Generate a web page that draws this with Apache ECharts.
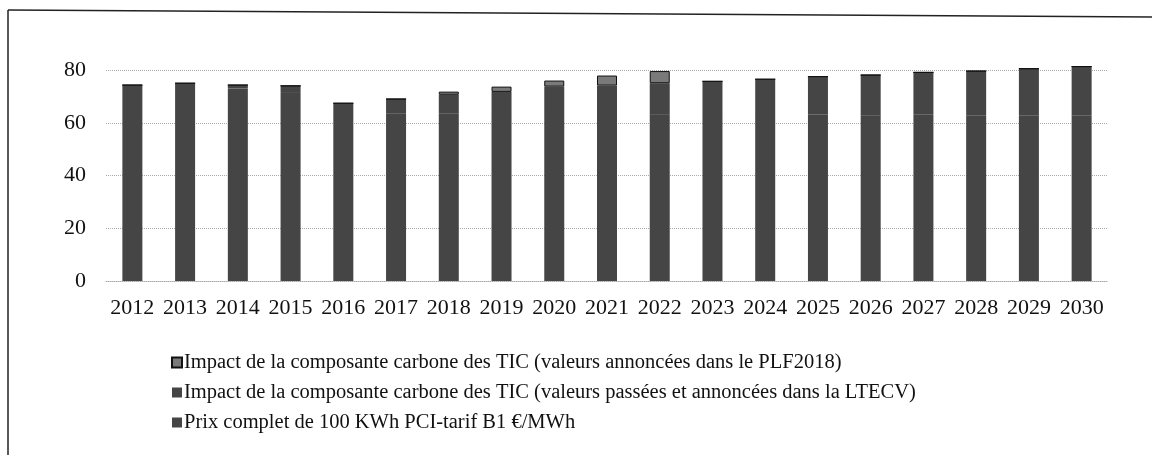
<!DOCTYPE html>
<html>
<head>
<meta charset="utf-8">
<script src="https://cdn.jsdelivr.net/npm/echarts@6/dist/echarts.min.js"></script>
<style>
html,body{margin:0;padding:0;background:#fff;}
#chart{width:1152px;height:455px;}
</style>
</head>
<body>
<div id="chart"></div>
<script>
var years = ['2012','2013','2014','2015','2016','2017','2018','2019','2020','2021','2022','2023','2024','2025','2026','2027','2028','2029','2030'];
var prixComplet = [74.3,75.0,73.0,71.3,63.3,63.4,63.4,62.9,63.3,62.9,63.0,62.9,62.9,63.1,62.8,63.0,62.7,62.8,62.8];
var carboneLTECV = [0,0,1.3,2.7,4.1,5.6,7.2,8.8,10.4,11.2,12.0,12.8,13.6,14.4,15.3,16.1,16.9,17.7,18.5];
var carbonePLF = [0,0,0,0,0,0,1.2,2.0,2.3,3.8,4.6,0,0,0,0,0,0,0,0];
var yTicks = [0,20,40,60,80];

var namePLF = 'Impact de la composante carbone des TIC (valeurs annoncées dans le PLF2018)';
var nameLTECV = 'Impact de la composante carbone des TIC (valeurs passées et annoncées dans la LTECV)';
var namePrix = 'Prix complet de 100 KWh PCI-tarif B1 €/MWh';

var chart = echarts.init(document.getElementById('chart'));
var font = '"Liberation Serif", "DejaVu Serif", serif';
chart.setOption({
  animation: false,
  backgroundColor: '#fff',
  textStyle: {fontFamily: font},
  grid: {left: 106, right: 44, top: 70, bottom: 174},
  xAxis: {
    type: 'category',
    data: years,
    axisLine: {show: true, lineStyle: {color: '#aaa', type: 'dotted', width: 1}},
    axisTick: {show: false},
    axisLabel: {fontFamily: font, fontSize: 22, color: '#111', margin: 16, interval: 0}
  },
  yAxis: {
    type: 'value',
    min: yTicks[0],
    max: yTicks[yTicks.length - 1],
    interval: 20,
    axisLine: {show: false},
    axisTick: {show: false},
    axisLabel: {fontFamily: font, fontSize: 22, color: '#111', margin: 20},
    splitLine: {lineStyle: {color: '#aaa', type: 'dotted', width: 1}}
  },
  legend: {
    orient: 'vertical',
    left: 166,
    top: 347,
    itemWidth: 10,
    itemHeight: 10,
    itemGap: 9,
    icon: 'rect',
    textStyle: {fontFamily: font, fontSize: 20.5, color: '#111', padding: [0,0,0,-3]},
    data: [namePLF, nameLTECV, namePrix]
  },
  series: [
    {
      name: namePrix, type: 'bar', stack: 'tot', barWidth: 20, clip: false,
      data: prixComplet,
      itemStyle: {color: '#454545', borderWidth: 0}
    },
    {
      name: nameLTECV, type: 'bar', stack: 'tot', barWidth: 20, clip: false,
      data: carboneLTECV,
      itemStyle: {color: '#454545', borderWidth: 0}
    },
    {
      name: namePLF, type: 'bar', stack: 'tot', barWidth: 20, clip: false,
      data: carbonePLF,
      itemStyle: {color: '#7a7a7a', borderColor: '#111', borderWidth: 1}
    }
  ],
  graphic: [
    {type: 'line', shape: {x1: 8, y1: 10, x2: 8, y2: 455}, style: {stroke: '#222', lineWidth: 1.5}},
    {type: 'line', shape: {x1: 8, y1: 10, x2: 1152, y2: 17}, style: {stroke: '#222', lineWidth: 1.5}}
  ]
});
</script>
</body>
</html>
